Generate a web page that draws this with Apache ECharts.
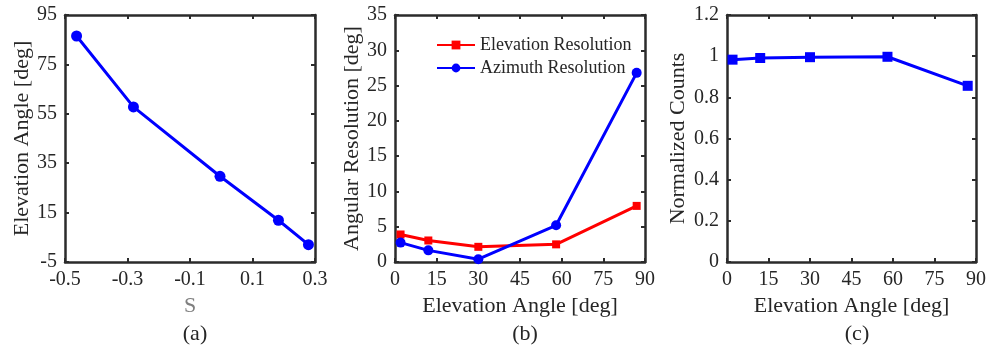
<!DOCTYPE html>
<html>
<head>
<meta charset="utf-8">
<script src="https://cdn.jsdelivr.net/npm/echarts@6/dist/echarts.min.js"></script>
<style>
  html, body { margin: 0; padding: 0; background: #fff; }
  #chart { width: 989px; height: 354px; }
</style>
</head>
<body>
<div id="chart"></div>
<script>
// (a) elevation angle versus S
const sValues = [-0.463, -0.281, -0.004, 0.183, 0.279];
const elevAngleA = [86.5, 57.8, 29.7, 11.9, 2.0];

// (b) angular resolution versus elevation angle
const elevAngles = [2, 12, 30, 58, 87];
const elevRes = [3.9, 3.05, 2.15, 2.5, 7.95];
const azimRes = [2.75, 1.65, 0.4, 5.2, 26.8];

// (c) normalized counts versus elevation angle
const normCounts = [0.983, 0.991, 0.995, 0.997, 0.856];

const FONT = 'Liberation Serif';
const AXIS_COLOR = '#2b2b2b';
const TEXT_COLOR = '#262626';

const pairs = (xs, ys) => xs.map((x, i) => [x, ys[i]]);

const grids = [
  { left: 65, top: 15, width: 250, height: 247 },
  { left: 395, top: 15, width: 250, height: 247 },
  { left: 727, top: 15, width: 250, height: 247 }
];

function axisBase(extra) {
  return Object.assign({
    type: 'value',
    axisLine: { show: true, onZero: false, lineStyle: { color: AXIS_COLOR, width: 2.5 } },
    axisTick: { show: true, inside: true, length: 4, lineStyle: { color: AXIS_COLOR, width: 2 } },
    splitLine: { show: false },
    axisLabel: { color: TEXT_COLOR, fontFamily: FONT, fontSize: 20, margin: 8 },
    nameLocation: 'middle',
    nameTextStyle: { color: TEXT_COLOR, fontFamily: FONT, fontSize: 22 }
  }, extra);
}

// A labelled axis plus a mirrored one on the opposite side, for a boxed frame
function boxAxes(gridIndex, dim, cfg) {
  const main = axisBase(Object.assign({ gridIndex }, cfg));
  const mirror = axisBase({
    gridIndex,
    min: cfg.min, max: cfg.max, interval: cfg.interval,
    position: dim === 'x' ? 'top' : 'right',
    axisLabel: { show: false }
  });
  return [main, mirror];
}

const xAxes = [
  ...boxAxes(0, 'x', { min: -0.5, max: 0.3, interval: 0.2, name: 'S', nameGap: 30,
    nameTextStyle: { color: '#7f7f7f', fontFamily: FONT, fontSize: 22 },
    axisLabel: { color: TEXT_COLOR, fontFamily: FONT, fontSize: 20, margin: 8,
      formatter: v => v.toFixed(1) } }),
  ...boxAxes(1, 'x', { min: 0, max: 90, interval: 15, name: 'Elevation Angle [deg]', nameGap: 30 }),
  ...boxAxes(2, 'x', { min: 0, max: 90, interval: 15, name: 'Elevation Angle [deg]', nameGap: 30 })
];

const yAxes = [
  ...boxAxes(0, 'y', { min: -5, max: 95, interval: 20, name: 'Elevation Angle [deg]', nameGap: 31 }),
  ...boxAxes(1, 'y', { min: 0, max: 35, interval: 5, name: 'Angular Resolution [deg]', nameGap: 26 }),
  ...boxAxes(2, 'y', { min: 0, max: 1.2, interval: 0.2, name: 'Normalized Counts', nameGap: 38,
    axisLabel: { color: TEXT_COLOR, fontFamily: FONT, fontSize: 20, margin: 8,
      formatter: v => (Math.round(v * 10) / 10).toString() } })
];

const lineSeries = (name, xi, yi, data, color, symbol, size) => ({
  name, type: 'line', xAxisIndex: xi, yAxisIndex: yi, data,
  symbol, symbolSize: size, showSymbol: true,
  lineStyle: { color, width: 3 },
  itemStyle: { color, borderWidth: 0 },
  animation: false
});

const option = {
  backgroundColor: '#fff',
  animation: false,
  grid: grids,
  xAxis: xAxes,
  yAxis: yAxes,
  title: [
    { text: '(a)', left: 190, top: 318, textAlign: 'center' },
    { text: '(b)', left: 520, top: 318, textAlign: 'center' },
    { text: '(c)', left: 852, top: 318, textAlign: 'center' }
  ].map(t => Object.assign(t, { textStyle: { fontFamily: FONT, fontSize: 22, fontWeight: 'normal', color: TEXT_COLOR } })),
  legend: {
    data: ['Elevation Resolution', 'Azimuth Resolution'],
    orient: 'vertical',
    left: 431, top: 31,
    itemWidth: 38, itemHeight: 11, itemGap: 5,
    textStyle: { fontFamily: FONT, fontSize: 18, color: TEXT_COLOR, lineHeight: 18 }
  },
  series: [
    lineSeries('S-curve', 0, 0, pairs(sValues, elevAngleA), '#0000ff', 'circle', 11),
    lineSeries('Elevation Resolution', 2, 2, pairs(elevAngles, elevRes), '#ff0000', 'rect', 8),
    lineSeries('Azimuth Resolution', 2, 2, pairs(elevAngles, azimRes), '#0000ff', 'circle', 10),
    lineSeries('Normalized Counts', 4, 4, pairs(elevAngles, normCounts), '#0000ff', 'rect', 10)
  ]
};

echarts.init(document.getElementById('chart'), null, { renderer: 'canvas' }).setOption(option);
</script>
</body>
</html>
